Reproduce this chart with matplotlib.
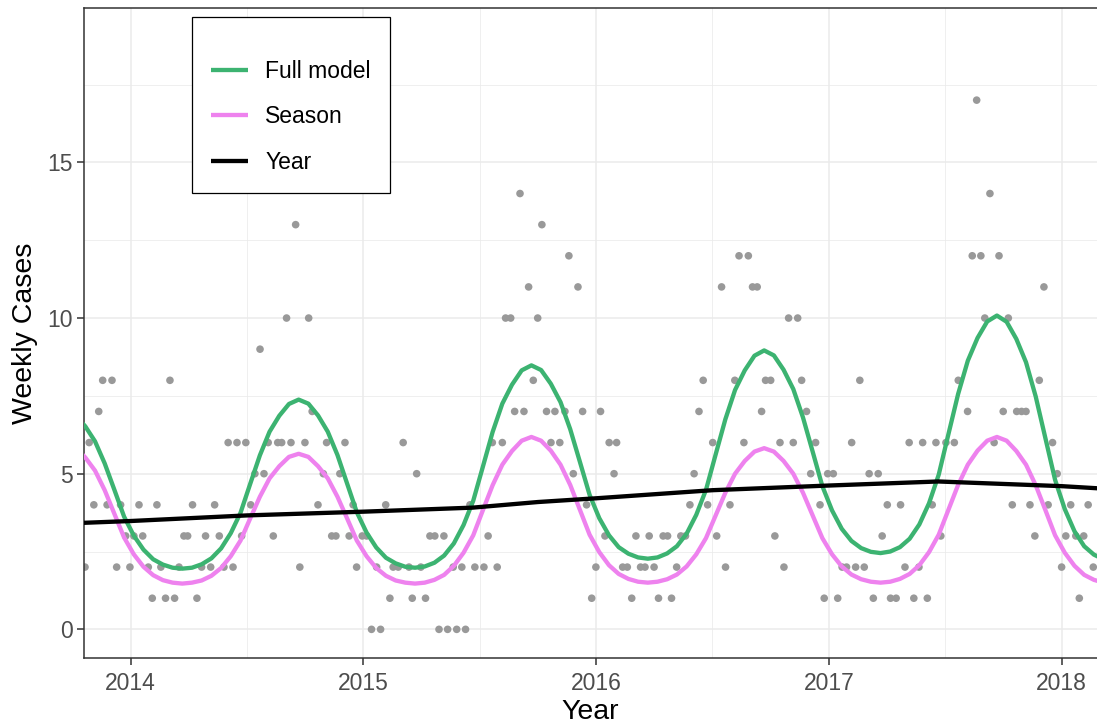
import numpy as np
import matplotlib
matplotlib.use('Agg')
import matplotlib.pyplot as plt
from matplotlib.ticker import MultipleLocator

plt.rcParams['font.family'] = ['Liberation Sans', 'DejaVu Sans']

#%% observed weekly cases (decimal year, count)
obs_year = [2013.804, 2013.822, 2013.842, 2013.863, 2013.880, 2013.899, 2013.920, 2013.940, 2013.957, 2013.979,
            2013.997, 2014.014, 2014.036, 2014.052, 2014.076, 2014.093, 2014.113, 2014.130, 2014.150, 2014.169,
            2014.189, 2014.208, 2014.229, 2014.245, 2014.266, 2014.285, 2014.305, 2014.322, 2014.344, 2014.361,
            2014.381, 2014.401, 2014.419, 2014.440, 2014.457, 2014.477, 2014.495, 2014.516, 2014.534, 2014.556,
            2014.573, 2014.591, 2014.613, 2014.632, 2014.649, 2014.670, 2014.689, 2014.709, 2014.727, 2014.749,
            2014.765, 2014.780, 2014.805, 2014.828, 2014.842, 2014.864, 2014.882, 2014.899, 2014.921, 2014.939,
            2014.956, 2014.971,
            2014.995, 2015.014, 2015.035, 2015.057, 2015.074, 2015.096, 2015.114, 2015.128, 2015.150, 2015.171,
            2015.196, 2015.210, 2015.229, 2015.247, 2015.267, 2015.286, 2015.307, 2015.325, 2015.346, 2015.362,
            2015.386, 2015.401, 2015.423, 2015.439, 2015.458, 2015.479, 2015.518, 2015.536, 2015.554, 2015.575,
            2015.597, 2015.611, 2015.633, 2015.650, 2015.673, 2015.690, 2015.710, 2015.730, 2015.749, 2015.767,
            2015.787, 2015.806, 2015.823, 2015.844, 2015.866, 2015.883, 2015.902, 2015.922, 2015.942, 2015.959,
            2015.981, 2015.999, 2016.019, 2016.038, 2016.056, 2016.077, 2016.088,
            2016.114, 2016.134, 2016.153, 2016.171, 2016.191, 2016.210, 2016.228, 2016.249, 2016.268, 2016.288,
            2016.307, 2016.324, 2016.346, 2016.364, 2016.384, 2016.403, 2016.421, 2016.442, 2016.460, 2016.479,
            2016.501, 2016.518, 2016.539, 2016.556, 2016.575, 2016.596, 2016.614, 2016.635, 2016.654, 2016.672,
            2016.692, 2016.711, 2016.728, 2016.750, 2016.768, 2016.790, 2016.807, 2016.827, 2016.847, 2016.866,
            2016.883, 2016.904, 2016.922, 2016.943, 2016.962, 2016.980, 2016.995, 2017.019, 2017.038, 2017.057,
            2017.076, 2017.098, 2017.115, 2017.133,
            2017.152, 2017.173, 2017.191, 2017.212, 2017.229, 2017.251, 2017.265, 2017.289, 2017.308, 2017.327,
            2017.345, 2017.365, 2017.387, 2017.403, 2017.423, 2017.444, 2017.460, 2017.481, 2017.503, 2017.539,
            2017.556, 2017.596, 2017.616, 2017.635, 2017.653, 2017.670, 2017.692, 2017.710, 2017.731, 2017.749,
            2017.771, 2017.788, 2017.807, 2017.828, 2017.847, 2017.864, 2017.885, 2017.904, 2017.924, 2017.942,
            2017.961, 2017.981, 2018.000, 2018.018, 2018.039, 2018.061, 2018.076, 2018.095, 2018.114, 2018.136]
obs_cases = [2, 6, 4, 7, 8, 4, 8, 2, 4, 3,
             2, 3, 4, 3, 2, 1, 4, 2, 1, 8,
             1, 2, 3, 3, 4, 1, 2, 3, 2, 4,
             3, 2, 6, 2, 6, 3, 6, 4, 5, 9,
             5, 6, 3, 6, 6, 10, 6, 13, 2, 6,
             10, 7, 4, 5, 6, 3, 3, 5, 6, 3,
             4, 2,
             3, 3, 0, 2, 0, 4, 1, 2, 2, 6,
             2, 1, 5, 2, 1, 3, 3, 0, 3, 0,
             2, 0, 2, 0, 4, 2, 2, 3, 6, 2,
             6, 10, 10, 7, 14, 7, 11, 8, 10, 13,
             7, 6, 7, 6, 7, 12, 5, 11, 7, 4,
             1, 2, 7, 3, 6, 5, 6,
             2, 2, 1, 3, 2, 2, 3, 2, 1, 3,
             3, 1, 2, 3, 3, 4, 5, 7, 8, 4,
             6, 3, 11, 2, 4, 8, 12, 6, 12, 11,
             11, 7, 8, 8, 3, 6, 2, 10, 6, 10,
             8, 7, 5, 6, 4, 1, 5, 5, 1, 2,
             2, 6, 2, 8,
             2, 5, 1, 5, 3, 4, 1, 1, 4, 2,
             6, 1, 2, 6, 1, 4, 6, 3, 6, 6,
             8, 7, 12, 17, 12, 10, 14, 6, 12, 7,
             10, 4, 7, 7, 7, 4, 3, 8, 11, 4,
             6, 5, 2, 3, 4, 3, 1, 3, 4, 2]

#%% fitted curves, read off every 1/24 year from 2013.722
fit_start = 2013.722
full_model = [7.00, 6.87, 6.52, 6.04, 5.33, 4.48, 3.62, 3.01, 2.56, 2.25, 2.08, 1.98, 1.95,
              1.98, 2.09, 2.28, 2.60, 3.09, 3.74, 4.67, 5.59, 6.35, 6.86, 7.24, 7.38,
              7.25, 6.87, 6.35, 5.60, 4.68, 3.76, 3.11, 2.63, 2.30, 2.12, 2.01, 1.98,
              2.02, 2.14, 2.37, 2.76, 3.35, 4.13, 5.23, 6.34, 7.25, 7.86, 8.32, 8.48,
              8.33, 7.89, 7.30, 6.43, 5.38, 4.32, 3.57, 3.02, 2.64, 2.43, 2.31, 2.27,
              2.31, 2.44, 2.67, 3.07, 3.68, 4.48, 5.62, 6.75, 7.69, 8.32, 8.79, 8.96,
              8.80, 8.34, 7.72, 6.81, 5.71, 4.60, 3.82, 3.23, 2.84, 2.61, 2.49, 2.45,
              2.50, 2.64, 2.91, 3.37, 4.05, 4.97, 6.27, 7.56, 8.63, 9.36, 9.89, 10.08,
              9.88, 9.33, 8.58, 7.48, 6.14, 4.80, 3.86, 3.15, 2.67, 2.40, 2.25]
season = [5.95, 5.84, 5.52, 5.10, 4.47, 3.71, 2.95, 2.41, 2.01, 1.74, 1.58, 1.50, 1.47,
          1.50, 1.57, 1.72, 1.97, 2.35, 2.85, 3.56, 4.26, 4.85, 5.24, 5.54, 5.64,
          5.54, 5.24, 4.85, 4.26, 3.56, 2.85, 2.35, 1.97, 1.72, 1.57, 1.50, 1.47,
          1.50, 1.59, 1.75, 2.04, 2.46, 3.02, 3.83, 4.63, 5.29, 5.73, 6.06, 6.18,
          6.06, 5.74, 5.29, 4.64, 3.84, 3.04, 2.48, 2.06, 1.78, 1.62, 1.53, 1.50,
          1.53, 1.61, 1.76, 2.02, 2.41, 2.93, 3.66, 4.39, 5.00, 5.41, 5.71, 5.82,
          5.71, 5.41, 5.00, 4.39, 3.66, 2.93, 2.41, 2.02, 1.76, 1.61, 1.53, 1.50,
          1.53, 1.62, 1.78, 2.06, 2.48, 3.04, 3.84, 4.64, 5.29, 5.74, 6.06, 6.18,
          6.06, 5.73, 5.29, 4.63, 3.83, 3.02, 2.46, 2.04, 1.75, 1.59, 1.50]
fit_year = fit_start + np.arange(len(full_model)) / 24.0

# long term (year) effect
trend_year = [2013.722, 2014.0, 2014.5, 2015.0, 2015.47, 2015.75, 2016.0, 2016.5, 2017.0, 2017.47, 2018.0, 2018.18]
trend_val = [3.40, 3.48, 3.66, 3.78, 3.91, 4.09, 4.21, 4.47, 4.62, 4.75, 4.60, 4.52]

year_ticks = [2014, 2015, 2016, 2017, 2018]
case_ticks = [0, 5, 10, 15]

#%%
W, H = 1097, 725
fig = plt.figure(figsize=(W / 100, H / 100), dpi=100)
ax = fig.add_axes([84.3 / W, 1 - 658.3 / H, (W - 84.3) / W, 650 / H])

grid_col = '#EBEBEB'
ax.set_axisbelow(True)
ax.xaxis.set_minor_locator(MultipleLocator(0.5))
ax.yaxis.set_minor_locator(MultipleLocator(2.5))
ax.grid(which='major', color=grid_col, lw=1.1)
ax.grid(which='minor', color=grid_col, lw=0.55)

ax.scatter(obs_year, obs_cases, s=30, color='#999999', edgecolors='none', zorder=2)
l1, = ax.plot(fit_year, full_model, color='#3CB371', lw=3.1, zorder=3, solid_capstyle='butt')
l2, = ax.plot(fit_year, season, color='#EE82EE', lw=3.1, zorder=3, solid_capstyle='butt')
l3, = ax.plot(trend_year, trend_val, color='black', lw=3.1, zorder=4, solid_capstyle='butt')

ax.set_xlim(2013.801, 2018.152)
ax.set_ylim(-0.93, 19.95)
ax.set_xticks(year_ticks)
ax.set_xticklabels([str(y) for y in year_ticks])
ax.set_yticks(case_ticks)

for s in ['left', 'bottom', 'top']:
    ax.spines[s].set_color('#333333')
    ax.spines[s].set_linewidth(1.1)
ax.spines['right'].set_visible(False)
ax.tick_params(which='major', length=5, width=1.1, color='#333333', labelsize=16.5, labelcolor='#4D4D4D')
ax.tick_params(axis='x', which='major', pad=5)
ax.tick_params(axis='y', which='major', pad=3)
ax.tick_params(which='minor', length=0)

ax.set_xlabel('Year', fontsize=20.5, labelpad=3)
ax.set_ylabel('Weekly Cases', fontsize=20.5, labelpad=7)

leg = ax.legend([l1, l2, l3], ['Full model', 'Season', 'Year'], loc='upper left',
                bbox_to_anchor=((192 - 84.3) / (W - 84.3), (658.3 - 17) / 650), borderaxespad=0,
                fontsize=16.5, title=' ', title_fontsize=1, frameon=True, fancybox=False,
                edgecolor='black', framealpha=1, borderpad=0.85, labelspacing=0.98,
                handlelength=1.6, handletextpad=0.75)
leg.get_frame().set_linewidth(0.9)

fig.savefig('out.png', dpi=100)
